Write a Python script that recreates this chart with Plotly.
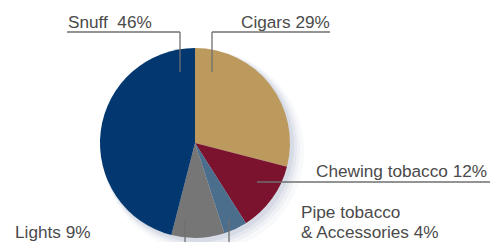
import plotly.graph_objects as go

labels = ["Cigars", "Chewing tobacco", "Pipe tobacco & Accessories", "Lights", "Snuff"]
values = [29, 12, 4, 9, 46]
colors = ["#BC9A5E", "#7B132E", "#4B6E8D", "#767676", "#02386F"]

W, H = 490, 242
def px(x):
    return x / W
def py(y):
    return 1 - y / H

# pie placement (pixels)
cx, cy, r = 195, 143, 95

fig = go.Figure()
fig.add_trace(go.Pie(
    labels=labels, values=values, sort=False, direction="clockwise", rotation=0,
    marker=dict(colors=colors, line=dict(width=0)),
    textinfo="none", showlegend=False, hoverinfo="label+percent",
    domain=dict(x=[px(cx - r), px(cx + r)], y=[py(cy + r), py(cy - r)]),
))

shapes = []
# soft shadow
for i, (d, op) in enumerate([(14, 0.06), (10, 0.08), (7, 0.10), (4, 0.14)]):
    shapes.append(dict(type="circle", xref="paper", yref="paper", layer="below",
                       x0=px(cx - r + 2), x1=px(cx + r + d), y0=py(cy + r + d), y1=py(cy - r + 2),
                       fillcolor="#8d95b5", opacity=op, line=dict(width=0)))

lc = dict(color="#6f6f6f", width=1.3)
def seg(x0, y0, x1, y1):
    shapes.append(dict(type="line", xref="paper", yref="paper", x0=px(x0), y0=py(y0),
                       x1=px(x1), y1=py(y1), line=lc, layer="above"))

# Snuff
seg(67, 32, 180, 32); seg(180, 32, 180, 72)
# Cigars
seg(212, 32, 330, 32); seg(212, 32, 212, 72)
# Chewing tobacco
seg(257, 182, 490, 182)
# Pipe tobacco
seg(229, 219, 229, 242)
# Lights
seg(185, 219, 185, 242)

font = dict(family="Liberation Sans, Arial, sans-serif", size=17.2, color="#4a4a4a")
anns = []
def txt(x, y, s, xa="left"):
    anns.append(dict(x=px(x), y=py(y), xref="paper", yref="paper", text=s, showarrow=False,
                     xanchor=xa, yanchor="middle", font=font, align="left"))

txt(66, 22, "Snuff  46%")
txt(239, 22, "Cigars 29%")
txt(489, 171, "Chewing tobacco 12%", xa="right")
txt(299, 212, "Pipe tobacco")
txt(299, 232, "&amp; Accessories 4%")
txt(13, 232, "Lights 9%")

fig.update_layout(width=W, height=H, margin=dict(l=0, r=0, t=0, b=0),
                  paper_bgcolor="white", plot_bgcolor="white",
                  shapes=shapes, annotations=anns)
fig.write_html("out.html", config={"displayModeBar": False},
               post_script="document.body.style.margin='0';")
